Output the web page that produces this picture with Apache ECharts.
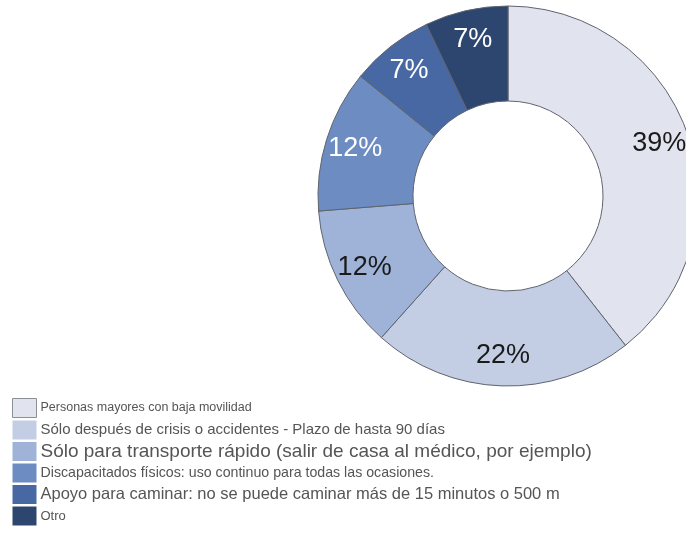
<!DOCTYPE html>
<html><head><meta charset="utf-8">
<script src="https://cdn.jsdelivr.net/npm/echarts@6/dist/echarts.min.js"></script>
<style>html,body{margin:0;padding:0;background:#fff}#c{width:686px;height:546px}</style>
</head><body><div id="c"></div>
<script>
const categories = [
  "Personas mayores con baja movilidad",
  "Sólo después de crisis o accidentes - Plazo de hasta 90 días",
  "Sólo para transporte rápido (salir de casa al médico, por ejemplo)",
  "Discapacitados físicos: uso continuo para todas las ocasiones.",
  "Apoyo para caminar: no se puede caminar más de 15 minutos o 500 m",
  "Otro"
];
const values = [39, 22, 12, 12, 7, 7];
const colors = ["#e1e4ef", "#c3cde3", "#9fb2d8", "#6d8cc2", "#4868a3", "#2d466f"];
const labelColors = ["#1a1a1a", "#1a1a1a", "#1a1a1a", "#ffffff", "#ffffff", "#ffffff"];
const legendSizes = [12.5, 15, 19, 14.2, 16.5, 13];

const chart = echarts.init(document.getElementById('c'), null, {renderer: 'canvas'});
const ringData = categories.map((n, i) => ({name: n, value: values[i], itemStyle: {color: colors[i]}}));
const labelData = categories.map((n, i) => ({name: n, value: values[i],
  label: {color: labelColors[i]}}));
const legendData = categories.map((n, i) => ({name: n,
  itemStyle: i === 0 ? {borderColor: '#8a8f98', borderWidth: 1} : {borderWidth: 0}}));
const rich = {};
legendSizes.forEach((s, i) => { rich['r' + i] = {fontSize: s, color: '#555', lineHeight: 20, fontFamily: 'Liberation Sans, Arial, sans-serif'}; });

chart.setOption({
  backgroundColor: '#fff',
  animation: false,
  legend: {
    orient: 'vertical', left: 7, top: 393, height: 150,
    itemWidth: 24, itemHeight: 19, itemGap: 2.5,
    icon: 'rect',
    data: legendData,
    selectedMode: false,
    formatter: function (name) { const i = categories.indexOf(name); return '{r' + i + '|' + name + '}'; },
    textStyle: {rich: rich, padding: [0, 0, 0, -1]}
  },
  series: [
    {
      type: 'pie', center: [508, 196], radius: [95, 190], startAngle: 90, clockwise: true,
      data: ringData, silent: true,
      itemStyle: {borderColor: '#5f646e', borderWidth: 1},
      label: {show: false}, labelLine: {show: false}
    },
    {
      type: 'pie', center: [508, 196], radius: [124, 190], startAngle: 90, clockwise: true,
      data: labelData, silent: true,
      itemStyle: {color: 'rgba(0,0,0,0)', borderWidth: 0},
      label: {show: true, position: 'inside', formatter: '{c}%', fontSize: 27,
        fontFamily: 'Liberation Sans, Arial, sans-serif', fontWeight: 'normal'},
      labelLine: {show: false}
    }
  ]
});
</script></body></html>
